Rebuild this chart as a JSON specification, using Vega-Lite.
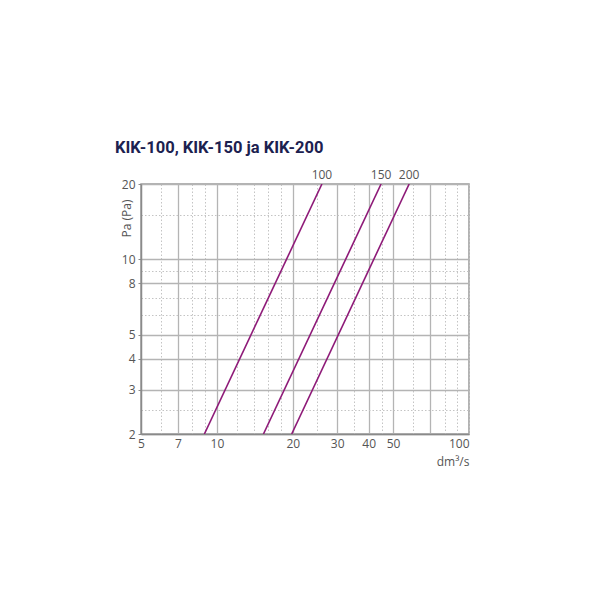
{
  "$schema": "https://vega.github.io/schema/vega-lite/v6.json",
  "autosize": {"type": "none"},
  "padding": {"left": 141, "top": 184, "right": 131, "bottom": 166},
  "width": 328,
  "height": 250,
  "background": "white",
  "config": {
    "font": "Open Sans",
    "view": {"stroke": "#9a9a9a", "strokeWidth": 1.5}
  },
  "title": {
    "text": "KIK-100, KIK-150 ja KIK-200",
    "anchor": "start",
    "frame": "group",
    "dx": -26,
    "offset": 13,
    "font": "Roboto",
    "fontSize": 16.5,
    "fontWeight": "bold",
    "color": "#1c2150"
  },
  "datasets": {
    "curves": [
      {"size": "100", "flow": 8.92, "pa": 2},
      {"size": "100", "flow": 26.1, "pa": 20},
      {"size": "150", "flow": 15.3, "pa": 2},
      {"size": "150", "flow": 44.8, "pa": 20},
      {"size": "200", "flow": 19.8, "pa": 2},
      {"size": "200", "flow": 57.9, "pa": 20}
    ],
    "labels": [
      {"size": "100", "flow": 26.1, "pa": 20},
      {"size": "150", "flow": 44.8, "pa": 20},
      {"size": "200", "flow": 57.9, "pa": 20}
    ]
  },
  "layer": [
    {
      "data": {"name": "curves"},
      "mark": {"type": "line", "color": "#8e1a78", "strokeWidth": 1.6, "clip": true},
      "encoding": {
        "x": {
          "field": "flow",
          "type": "quantitative",
          "scale": {"type": "log", "domain": [5, 100], "nice": false},
          "axis": {
            "title": "dm³/s",
            "titleFont": "Open Sans",
            "titleFontSize": 12,
            "titleFontWeight": "normal",
            "titleColor": "#555555",
            "titleAnchor": "end",
            "titleAlign": "right",
            "titleX": 328,
            "titleY": 31,
            "titleBaseline": "alphabetic",
            "values": [5, 6, 7, 8, 9, 10, 12, 14, 16, 18, 20, 25, 30, 35, 40, 45, 50, 60, 70, 80, 90, 100],
            "labelExpr": "indexof([5, 7, 10, 20, 30, 40, 50, 100], datum.value) >= 0 ? datum.value : ''",
            "labelFlush": false,
            "labelOverlap": false,
            "labelAlign": {"expr": "datum.value == 100 ? 'right' : 'center'"},
            "labelDx": {"expr": "datum.value == 100 ? -4 : 0"},
            "labelFontSize": 12,
            "labelColor": "#555555",
            "labelPadding": 4,
            "ticks": false,
            "domainColor": "#8a8a8a",
            "domainWidth": 1.5,
            "grid": true,
            "gridColor": {
              "condition": {"test": "indexof([7, 10, 20, 30, 40, 50, 70], datum.value) >= 0", "value": "#b4b4b4"},
              "value": "#c4c4c4"
            },
            "gridWidth": {
              "condition": {"test": "indexof([7, 10, 20, 30, 40, 50, 70], datum.value) >= 0", "value": 1.3},
              "value": 1
            },
            "gridDash": {
              "condition": {"test": "indexof([7, 10, 20, 30, 40, 50, 70], datum.value) >= 0", "value": []},
              "value": [1.5, 2]
            }
          }
        },
        "y": {
          "field": "pa",
          "type": "quantitative",
          "scale": {"type": "log", "domain": [2, 20], "nice": false},
          "axis": {
            "title": "Pa (Pa)",
            "titleFont": "Open Sans",
            "titleFontSize": 12,
            "titleFontWeight": "normal",
            "titleColor": "#555555",
            "titleAngle": -90,
            "titleAlign": "center",
            "titleBaseline": "bottom",
            "titleX": -8,
            "titleY": 34,
            "values": [2, 2.5, 3, 4, 5, 6, 7, 8, 9, 10, 15, 20],
            "labelExpr": "indexof([2, 3, 4, 5, 8, 10, 20], datum.value) >= 0 ? datum.value : ''",
            "labelOverlap": false,
            "labelFontSize": 12,
            "labelColor": "#555555",
            "labelPadding": 3,
            "tickSize": {"expr": "indexof([2, 3, 4, 5, 8, 10, 20], datum.value) >= 0 ? 3 : 0"},
            "tickColor": "#8a8a8a",
            "domainColor": "#8a8a8a",
            "domainWidth": 1.5,
            "grid": true,
            "gridColor": {
              "condition": {"test": "indexof([2, 3, 4, 5, 8, 10, 20], datum.value) >= 0", "value": "#b4b4b4"},
              "value": "#c4c4c4"
            },
            "gridWidth": {
              "condition": {"test": "indexof([2, 3, 4, 5, 8, 10, 20], datum.value) >= 0", "value": 1.3},
              "value": 1
            },
            "gridDash": {
              "condition": {"test": "indexof([2, 3, 4, 5, 8, 10, 20], datum.value) >= 0", "value": []},
              "value": [1.5, 2]
            }
          }
        },
        "detail": {"field": "size", "type": "nominal"}
      }
    },
    {
      "data": {"name": "labels"},
      "mark": {"type": "text", "baseline": "bottom", "dy": -2, "fontSize": 12, "color": "#555555", "font": "Open Sans"},
      "encoding": {
        "x": {"field": "flow", "type": "quantitative"},
        "y": {"field": "pa", "type": "quantitative"},
        "text": {"field": "size", "type": "nominal"}
      }
    }
  ]
}
